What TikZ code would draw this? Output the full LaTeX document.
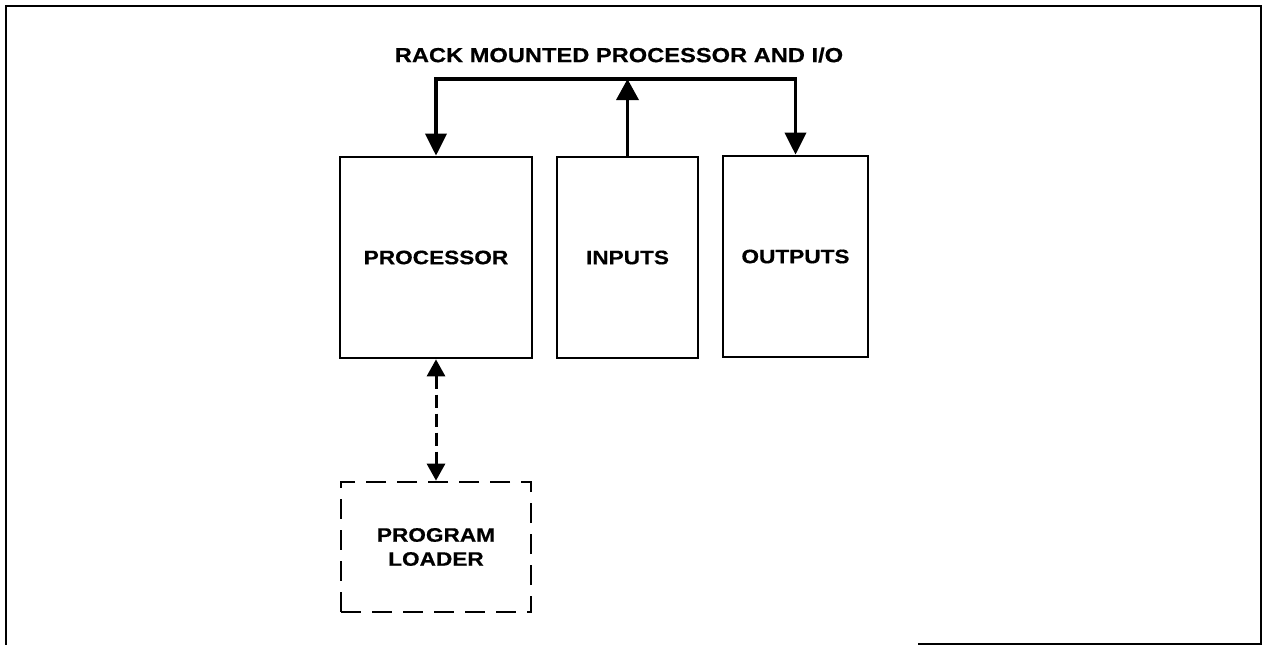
\documentclass[tikz,border=0pt]{standalone}
\usepackage{fontspec}
\newfontfamily\lbl{Liberation Sans Bold}[FakeStretch=1.16,FakeBold=0.4]
\usetikzlibrary{arrows.meta}
\tikzset{
  blk/.style={draw, line width=2.7pt, rectangle, inner sep=0pt, align=center,
              font=\lbl\fontsize{19.5}{24}\selectfont},
  dblk/.style={blk, dash pattern=on 20pt off 11pt},
  bus/.style={line width=3.6pt, line join=miter},
  dconn/.style={line width=3pt, dash pattern=on 13pt off 6pt},
  frame/.style={line width=2.4pt},
  ttl/.style={font=\lbl\fontsize{20.4}{24}\selectfont, inner sep=0pt}
}
\begin{document}
\begin{tikzpicture}[x=1pt,y=-1pt]
\useasboundingbox (0,0) rectangle (1262,645);
% outer frame
\coordinate (f1) at (918,644);
\coordinate (f2) at (1261,644);
\coordinate (f3) at (1261,6);
\coordinate (f4) at (6,6);
\coordinate (f5) at (6,645);
\draw[frame] (f1) -- (f2) -- (f3) -- (f4) -- (f5);
% title
\node[ttl] (title) at (619,55) {RACK MOUNTED PROCESSOR AND I/O};
% boxes
\node[blk, minimum width=192pt, minimum height=201pt] (proc) at (436,257.5) {PROCESSOR};
\node[blk, minimum width=141pt, minimum height=201pt] (inp) at (627.5,257.5) {INPUTS};
\node[blk, minimum width=145pt, minimum height=201pt] (outp) at (795.5,256.5) {OUTPUTS};
\node[dblk, minimum width=190pt, minimum height=130pt] (load) at (436,547) {PROGRAM\\LOADER};
% bus
\coordinate (busL) at (436,79);
\coordinate (busR) at (795.5,79);
\draw[bus, {Triangle[length=22pt,width=21pt]}-{Triangle[length=22pt,width=21pt]}]
  (proc.north) -- (busL) -- (busR) -- (outp.north);
\draw[bus, -{Triangle[length=21pt,width=22pt]}] (inp.north) -- (inp.north |- busL);
% program loader link
\draw[dconn, {Triangle[length=17pt,width=18pt]}-{Triangle[length=17pt,width=18pt]}]
  (proc.south) -- (load.north);
\end{tikzpicture}
\end{document}
